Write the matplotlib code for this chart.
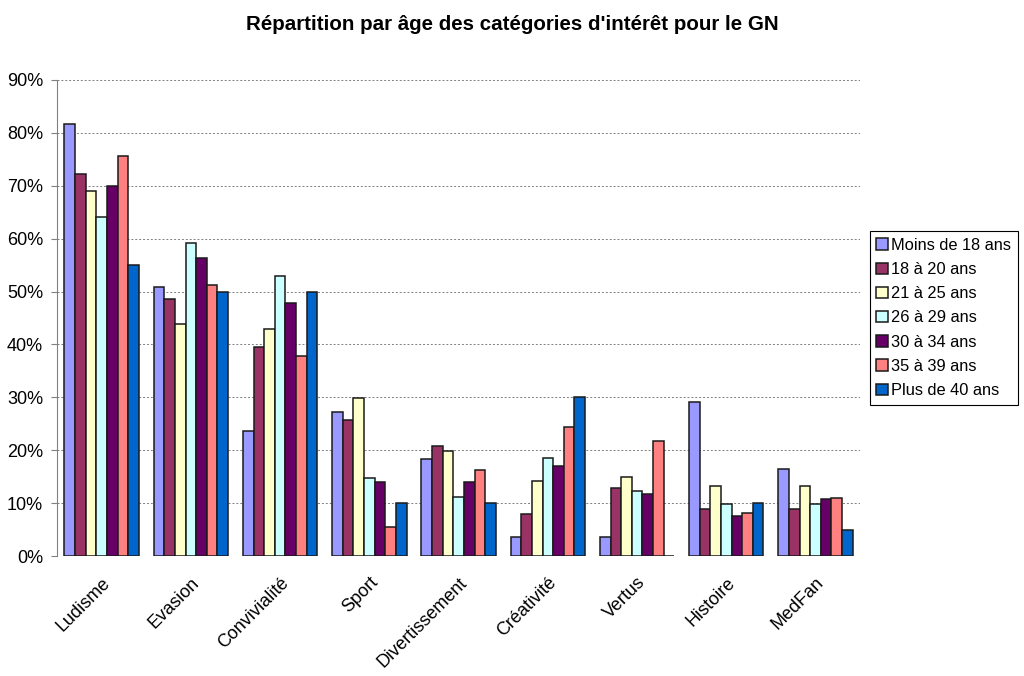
import numpy as np
import matplotlib.pyplot as plt
from matplotlib.ticker import FuncFormatter
from matplotlib.transforms import ScaledTranslation

plt.rcParams['font.family'] = ['Liberation Sans', 'DejaVu Sans']

categories = ['Ludisme', 'Evasion', 'Convivialité', 'Sport', 'Divertissement',
              'Créativité', 'Vertus', 'Histoire', 'MedFan']
age_groups = ['Moins de 18 ans', '18 à 20 ans', '21 à 25 ans', '26 à 29 ans',
              '30 à 34 ans', '35 à 39 ans', 'Plus de 40 ans']

# values in %, one list per age group
moins_18 = [81.7, 50.8, 23.6, 27.3, 18.3, 3.6, 3.6, 29.1, 16.4]
de_18_20 = [72.2, 48.5, 39.5, 25.7, 20.8, 7.9, 12.9, 8.9, 8.9]
de_21_25 = [69.0, 43.8, 42.9, 29.9, 19.9, 14.2, 15.0, 13.2, 13.2]
de_26_29 = [64.1, 59.1, 53.0, 14.8, 11.1, 18.5, 12.3, 9.9, 9.9]
de_30_34 = [70.0, 56.3, 47.8, 13.9, 13.9, 17.0, 11.8, 7.5, 10.7]
de_35_39 = [75.6, 51.3, 37.8, 5.4, 16.2, 24.3, 21.7, 8.1, 10.9]
plus_40 = [55.0, 50.0, 50.0, 10.0, 10.0, 30.0, 0.0, 10.0, 5.0]

series = [moins_18, de_18_20, de_21_25, de_26_29, de_30_34, de_35_39, plus_40]
colors = ['#9999FF', '#993366', '#FFFFCC', '#CCFFFF', '#660066', '#FF8080', '#0066CC']

fig = plt.figure(figsize=(10.24, 6.76), dpi=100)
ax = fig.add_axes([0.0557, 0.1775, 0.7843, 0.7042])

x = np.arange(len(categories))
n = len(series)
width = 0.119
for i, (vals, c, lab) in enumerate(zip(series, colors, age_groups)):
    offs = (i - (n - 1) / 2) * width
    ax.bar(x + offs, vals, width=width, color=c, edgecolor='#1a1a1a',
           linewidth=1.1, label=lab, zorder=3)

ax.set_xlim(-0.5, len(categories) - 0.5)
ax.set_ylim(0, 90)
ax.set_yticks(np.arange(0, 91, 10))
ax.yaxis.set_major_formatter(FuncFormatter(lambda v, p: '%d%%' % v))
ax.yaxis.grid(True, linestyle=(0, (2, 2)), color='#808080', linewidth=0.7, zorder=0)

ax.set_xticks(x)
ax.set_xticklabels(categories, rotation=45, ha='right', rotation_mode='anchor',
                   fontsize=13)
shift = ScaledTranslation(-12 / 100, 0, fig.dpi_scale_trans)
for lbl in ax.get_xticklabels():
    lbl.set_transform(lbl.get_transform() + shift)
ax.tick_params(axis='x', length=0, pad=13)
ax.tick_params(axis='y', labelsize=13, length=4, color='#808080', pad=6)

for s in ['top', 'right', 'bottom']:
    ax.spines[s].set_visible(False)
ax.spines['left'].set_color('#808080')

fig.suptitle("Répartition par âge des catégories d'intérêt pour le GN",
             fontsize=14.8, fontweight='bold', x=0.5, y=0.978)

leg = ax.legend(loc='center left', bbox_to_anchor=(1.012, 0.5), fontsize=11.8,
                fancybox=False, edgecolor='black', framealpha=1,
                handlelength=0.7, handleheight=0.7, handletextpad=0.2,
                labelspacing=0.56, borderpad=0.4, borderaxespad=0)
leg.get_frame().set_linewidth(0.8)

fig.savefig('out.png', dpi=100, facecolor='white')
